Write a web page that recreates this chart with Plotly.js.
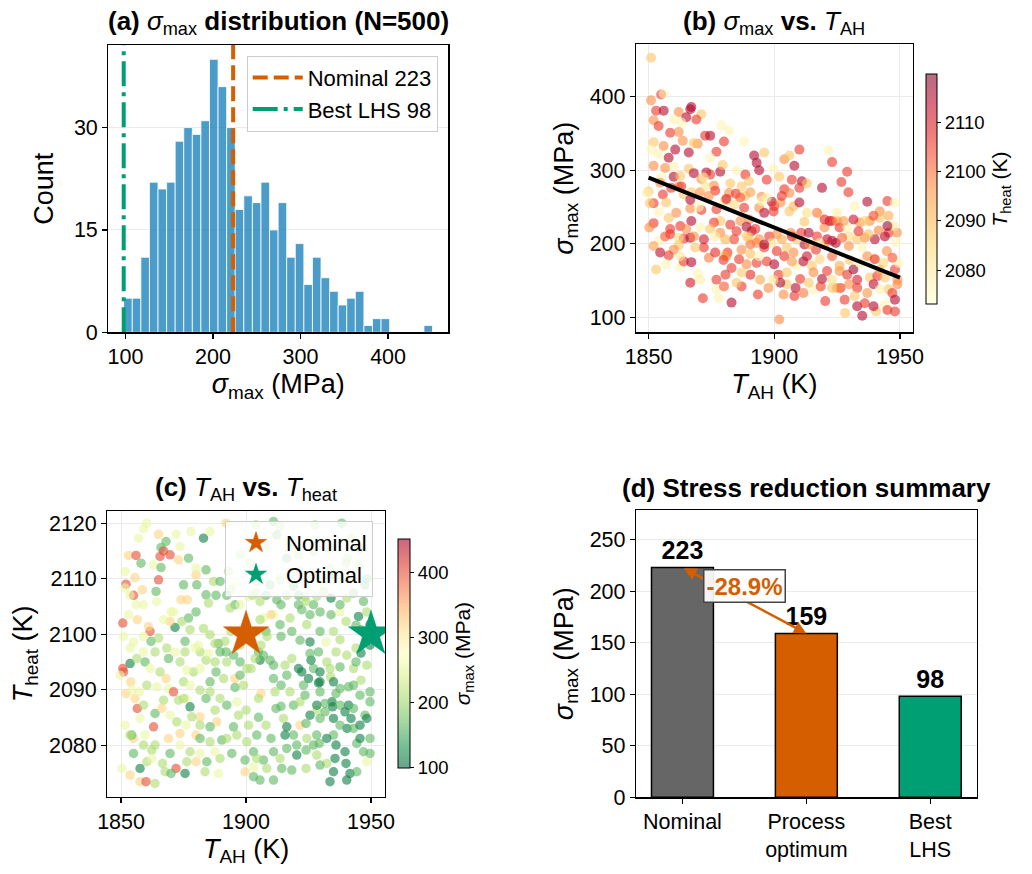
<!DOCTYPE html>
<html>
<head>
<meta charset="utf-8">
<script src="https://cdn.plot.ly/plotly-3.0.1.min.js"></script>
<style>html,body{margin:0;padding:0;background:#fff;}#chart{width:1032px;height:874px;}</style>
</head>
<body>
<div id="chart"></div>
<script>
// ---------------- DATA ----------------
// (a) histogram of sigma_max
const histStart = 98;      // MPa, left edge of first bin
const histBinWidth = 9.8;  // MPa
const histCounts = [5,5,11,22,21,22,28,30,29,31,40,36,30,18,20,19,22,15,19,11,13,7,11,8,6,4,5,6,1,2,2,0,0,0,0,1];
const nominalSigma = 223;
const bestLhsSigma = 98;

// (b) sigma_max vs T_AH, colour = T_heat
const bTah = [1851,1851,1855,1856,1853,1856,1862,1866.6,1867,1865,1871,1860,1852,1854,1863,1869,1879,1882,1858.6,1862,1872.5,1874.5,1863.6,1880,1888,1852,1856,1851,1860.6,1866,1877,1869.5,1868,1896,1892,1874.5,1858,1854,1910,1921.6,1923,1904,1906,1893,1908,1894,1899.7,1856.6,1852,1860,1866,1868,1873,1874.5,1878.5,1879.5,1860,1862.6,1871,1876,1882.5,1888.5,1887,1890,1897,1902,1907,1911,1910,1913,1929,1926.7,1919,1929.5,1932,1937,1945,1948,1850,1855.7,1862,1863,1867,1870.5,1876.5,1882,1884.7,1888.5,1895,1899,1900,1902.5,1904,1906,1906,1899.7,1852,1857,1861,1854,1866.6,1871,1877,1880.5,1888,1894,1896,1890,1886.5,1882.5,1878.5,1876,1870.6,1867,1862.6,1852,1850.3,1858.6,1858.6,1854,1865,1864,1866.6,1874.5,1878.5,1885,1889,1891,1892.5,1890,1894,1898,1901,1906.5,1910.7,1913.7,1917,1920,1922,1923,1925,1926,1929,1934,1938,1942,1942,1945.5,1948.8,1944,1940,1936,1933,1929.7,1923,1924.5,1920,1916.6,1912,1907.7,1905,1901,1896,1893,1887,1881.4,1880,1872,1868.5,1862,1860,1858,1853,1857,1862.6,1864,1867,1869.6,1877,1880.6,1881,1879.8,1883,1886,1889,1893,1897,1900,1901.7,1905,1909,1911.6,1915,1915.6,1919,1921,1926,1929,1926.4,1929.8,1933,1938,1941,1944,1948,1949,1945.5,1947,1948,1944,1945,1948,1940.5,1935,1933,1936,1928.2,1928,1925,1920.3,1915.6,1908.5,1908,1903.7,1902,1897.7,1893.5,1887,1885,1883,1878,1871.6,1877,1905,1910.3,1923,1932,1939.5,1948.5,1949.5,1944.8,1949,1872,1885,1895,1918,1935,1940,1912,1930,1855,1870,1858,1850.5,
1849.3,1854.6,1859,1864,1866.6,1872.5,1874,1881,1884,1886.5,1890.5,1897,1903,1907.7,1910,1913,1917,1920,1925,1927.6,1931.5,1936,1939.5,1945.5,1947.5,1945,1941.5,1937.5,1933.5,1929.6,1927,1921,1918,1914,1909,1907,1903,1899,1896,1890.5,1889,1884,1880.5,1876.5,1872,1868,1862,1856.6,1852,1854.6,1862.6,1874,1876.5,1890.5,1894,1904,1907,1913,1918,1923,1926,1931.5,1934,1937,1940,1943.5,1947,1942,1939.5,1942,1937,1933,1923,1918.5,1913.7,1911.6,1902.4,1899.7,1894.4,1890.5,1887,1880,1870.5,1866.6];
const bSigma = [453,395,403,404,381,381,379,383,386,372,376,369,368,360,365,369,361,354,351,352,347,347,340,339,339,338,333,328,328,324,325,336,337,324,320,317,317,322,328,327,311,315,320,310,306,300,302,303,306,305,302,296,297,294,298,307,291,292,288,279,282,294,278,285,287,291,287,285,276,282,298,284,276,270,251,257,258,256,271,267,278,278,270,270,272,269,268,265,264,257,251,256,274,269,244,244,255,256,242,243,248,246,247,259,249,249,242,233,231,226,231,229,222,231,224,228,222,220,213,204,220,207,208,220,215,217,223,217,220,208,206,210,213,215,215,215,210,222,231,231,231,222,222,229,231,244,235,215,215,210,206,208,206,197,204,201,199,192,199,188,195,190,195,201,192,188,183,195,195,198,192,184,165,172,168,176,175,160,151,158,183,178,167,179,172,174,176,172,158,161,170,176,170,161,152,163,163,158,140,145,140,154,156,154,165,145,138,133,124,117,110,108,108,102,115,119,106,124,140,122,138,140,129,131,97,140,131,142,147,120,126,126,138,145,152,140,129,115,202,174,190,151,290,300,258,240,195,180,230,178,290,250,235,255,
269,283,276,267,260,278,265,261,253,263,270,263,265,251,256,242,242,233,242,231,233,231,238,238,224,224,218,213,217,210,208,206,201,199,206,210,206,201,199,199,210,206,206,210,206,210,208,210,197,188,183,181,188,186,183,183,176,183,179,183,170,165,174,183,179,174,181,165,145,138,133,151,151,142,147,133,147,151,151,158,161,142,151,147];
const bTheat = [2088,2097,2106,2077,2106,2115,2097,2115,2115,2115,
2088,2077,2097,2106,2077,2106,2077,2077,2106,2097,
2106,2115,2097,2106,2077,2088,2097,2077,2115,2115,
2106,2097,2088,2088,2115,2077,2115,2077,2106,2077,
2106,2097,2088,2115,2115,2115,2077,2097,2097,2077,
2088,2115,2115,2106,2115,2088,2115,2088,2097,2097,
2088,2106,2088,2088,2106,2088,2106,2115,2106,2088,
2106,2106,2115,2106,2077,2115,2106,2077,2088,2106,
2097,2106,2088,2097,2106,2097,2106,2088,2097,2115,
2106,2097,2106,2097,2088,2106,2106,2088,2097,2077,
2097,2106,2106,2088,2106,2097,2115,2097,2097,2106,
2088,2106,2077,2115,2106,2106,2097,2106,2106,2077,
2097,2106,2115,2088,2097,2106,2115,2115,2106,2088,
2097,2106,2097,2097,2106,2115,2106,2097,2115,2106,
2097,2106,2077,2097,2097,2097,2088,2106,2097,2115,
2115,2097,2088,2097,2115,2115,2097,2106,2115,2097,
2088,2106,2106,2097,2097,2106,2088,2106,2088,2088,
2097,2106,2088,2077,2077,2106,2115,2077,2106,2106,
2097,2106,2106,2106,2097,2106,2106,2115,2106,2088,
2077,2115,2088,2097,2115,2106,2097,2106,2106,2097,
2106,2088,2106,2088,2106,2097,2088,2106,2115,2077,
2106,2106,2088,2115,2115,2106,2088,2106,2097,2106,
2077,2115,2106,2097,2097,2097,2106,2106,2088,2115,
2077,2106,2077,2088,2106,2088,2088,2115,2077,2077,
2097,2097,2077,2077,2077,2077,2077,2080,2088,2088,2077,2077,2088,2088,
2077,2097,2106,2088,2115,2081,2097,2110,2085,2102,
2094,2077,2106,2090,2115,2083,2099,2108,2079,2095,
2112,2086,2104,2092,2080,2117,2098,2089,2107,2084,
2101,2113,2078,2096,2088,2109,2093,2082,2116,2100,
2087,2105,2091,2079,2111,2097,2084,2103,2094,2114,
2081,2099,2108,2089,2076,2106,2095,2112,2086,2101,
2092,2118,2080,2097,2107,2085,2103,2090,2114,2078,
2096,2110,2083,2105,2088,2099,2116,2082,2093,2108,
2087,2102,2079,2111];
const fitTah = [1850, 1950];
const fitSigma = [290, 154];

// (c) T_heat vs T_AH, colour = sigma_max
const cTah = [1860.3,1859,1865,1857,1868,1866,1865.6,1867,1869.6,1853,
1856,1858,1863,1866,1873,1877,1873.6,1872,1878,1883,
1885.6,1892,1865,1852,1855.6,1855,1858.5,1864,1856,1851.6,
1850.7,1853,1856.5,1861.6,1861,1862,1871.6,1869.6,1871,1874,
1876.5,1877,1880,1880,1880.3,1875,1880,1884,1884,1885,
1888,1883,1881.6,1884,1879,1881.6,1885.6,1889,1889.6,1892,
1895,1894,1888,1895.6,1897.6,1895.6,1899,1905.6,1905,1909.6,
1907,1908,1908.4,1906,1903.6,1902,1911,1914,1911.6,1906,
1905,1900,1905,1908,1912,1914,1915,1916.3,1919,1915.6,
1910,1921.6,1924,1919,1921,1922.3,1925,1923,1927,1926,
1925.6,1929,1929.6,1934.4,1936,1934.6,1931.6,1928.4,1925.6,1929.6,
1937.6,1941,1942,1940.4,1943,1945.6,1947.6,1949.6,1949.6,1945.6,
1946,1943,1941,1937.6,1933.8,1937.6,1933.6,1929.6,1944,1946,
1944,1936,1932,1929,1925.6,1921.6,1918.3,1914,1914,1921,
1922.3,1927,1929.6,1934,1937.6,1934,1928.3,1924,1923.6,1943,
1947,1945,1944,1946,1940,1937.6,1921,1919,1908,1904,
1911,1907,1910,1901,1895.6,1893.6,1897.6,1905.6,1902.6,1921.6,
1924,1929.6,1935,1940.4,1947.6,1948.3,1933.6,1940,1945.3,1938.3,
1927.6,1911,1913.6,1904,1912.3,1918.3,1908.3,1921,1927,1933.6,
1940.6,1945.6,1942,1916.3,1901.6,1897.6,1893,1896,1887,1889.6,
1894,1892.3,1864.3,1870,1859.6,1853.6,1850.7,1851,1849.6,1853.9,
1852,1855.6,1856.5,1857.3,1863.6,1869,1867,1871,1873,1876,
1877.6,1881.6,1884,1887.6,1888.3,1868,1875,1865.6,1861.6,1869,
1873.6,1876.3,1863.6,1875.6,1851.6,1855,1854.3,1859.6,1863,1869,
1873.6,1876,1880,1881.6,1863.6,1859,1855,1862.3,1869.6,1876.3,
1880,1872,1867.6,1870,1875.6,1883.6,1889,1890.3,1894.3,1889.6,
1885.6,1899.6,1899.6,1903,1903,1905.6,1911,1914.3,1918.3,1907,
1911,1920.3,1924,1928.3,1933.6,1940.3,1941.6,1935.6,1940,1939.6,
1932.3,1949.6,1948.3,1944.3,1936,1929.3,1924,1857.6,1860,1863.6,
1850.3,1853.6,1857.6,1860.3,1853.6,1859,1855,1881,1885,
1851.6,1853.6,1859,1851,1859,1865,1867,1868.3,1871.6,1856.3,1854.3,1860.3,1864.3,1859,1866.3,1869.6,1872.3,1857.6,1853.6,1862.3,1866.6,1873.6,1877.6,1881.6,1884.3,1887.6,
1874.3,1877.6,1875.6,1879.6,1885.6,1887.6,1891.6,1897.6,1902.3,1892.3,1887.6,1897.6,1900.3,1891,1885.6,1881.6,1877.6,1875,1889.6,1892.3,1896.3,1897,1895,1901,1904.3,1900.3,1896.3,1892.3,1885.6,1881.6,1878.3,1903,1904.3,1908.3,1913.6,1916.3,1920.3,
1911,1915.6,1916.3,1918.3,1917.6,1921.6,1923.6,1928.3,1931.6,1935,1937.6,1935,1932.3,1928.3,1924.3,1927,1929.6,1935,1944.3,1947,1945.6,1949.6,1948.3,1943,1939.6,1943,1935,1929.6,1932.3,1940.3,1948.3,1949.6,1935,1929.6,1924.3,1917.6,1913.6,1925.6,1937.6,1940.3,1948.3,1949.6,1916.3,1912.3,1905.6,1904.3,1909.6,1913.6,1927,1931];
const cTheat = [2120,2119,2118,2117.3,2116.7,2115.6,2114,2115,2114.3,2114.2,
2114.2,2112.8,2112.5,2112,2113.4,2113.7,2115.8,2118,2118.5,2117.3,
2118.5,2120,2109.8,2109,2110.2,2107,2108,2107.7,2105.3,2108.3,
2102,2103.5,2102.6,2100.5,2101.4,2098.7,2101.2,2102.3,2104,2106.2,
2106.2,2102.9,2104,2110.7,2108.9,2108.9,2111.9,2111.6,2107.1,2105.6,
2107,2101,2096.8,2095.3,2093.2,2093.8,2091.4,2098.3,2096.8,2096.8,
2096.2,2100.5,2093.2,2092,2092.6,2090.4,2090.8,2095.3,2096.8,2095.3,
2096.2,2100.5,2099.6,2098,2095.6,2093.8,2092,2090.8,2089.6,2089.3,
2088.4,2086.3,2085,2083.6,2086.6,2087,2084.8,2083.3,2081.8,2081.8,
2081.2,2083.6,2083.9,2087.2,2093.8,2093.2,2092,2090.8,2093.8,2095.3,
2096.5,2091.2,2089.6,2087.8,2089.3,2086.9,2087.5,2086.3,2085.4,2084.8,
2087.2,2087.2,2084.8,2083,2083,2083.6,2085.4,2087.8,2089.6,2089,
2091.7,2093.8,2090.5,2090.2,2092.3,2094.1,2093.8,2093.2,2097.5,2096.6,
2095,2096.8,2098.6,2096.8,2098.6,2098.9,2100.5,2099.6,2105.3,2105.3,
2104.4,2105.3,2104,2103.5,2104,2106.5,2106.8,2105.9,2106.8,2107.4,
2105.9,2103.2,2101.6,2100.8,2102.3,2099,2107,2108.6,2107,2107.4,
2103.5,2102.9,2103.5,2106.8,2105.3,2104.7,2105.3,2102.6,2107,2111.3,
2108.9,2108.9,2110.7,2109.8,2108.9,2110,2111.9,2112.8,2112.5,2120,
2119.7,2120.3,2119.4,2119.7,2117.9,2116.4,2116.2,2114.3,2114.9,2115.5,
2113.7,2115.5,2117.3,2113.7,2112.8,2114.3,2111.3,2109.2,2109.5,2109.5,
2108,2107,2105.9,2104,2095,2094.7,2093.8,2093.2,2092.6,2091.4,
2089.3,2088.4,2086.6,2089.6,2085.7,2090.2,2088.1,2089.6,2088.1,2088.4,
2086.9,2085.1,2088.4,2086.3,2084.2,2092,2091.4,2093.2,2093.8,2095.6,
2095,2093.5,2096.8,2096.8,2083.6,2081.2,2081.8,2081.8,2083.3,2081.2,
2082.1,2083.6,2081.8,2081.2,2080,2080,2078.5,2079.1,2078.5,2077,
2077,2075.8,2075.2,2074.9,2074.9,2075.2,2074.9,2080.9,2078.5,2077.6,
2080.6,2075.2,2077.3,2076,2074.3,2073.7,2073.7,2075.8,2075.5,2077.3,
2078.8,2078.2,2079.1,2078.2,2073.4,2073.7,2074.9,2077.6,2076.7,2078.8,
2076.7,2078.5,2077,2080.3,2080,2080.3,2075.8,2073.4,2073.4,2073.1,
2075.8,2074.6,2075.8,2077,2097.5,2096.8,2098.6,2098,2096.5,
2111.3,2107,2105.3,2099.6,2099.6,2099.3,2102.6,2097.5,2096.8,2095.6,2089.9,2090.8,2090.5,2087.2,2086.6,2085.4,2084.2,2084.8,2081.8,2077.6,2076.7,2080,2078.8,2078.5,2077,2078.8,
2102.3,2100.8,2098.7,2097.5,2099.9,2098.3,2098.7,2098,2098.7,2095,2095,2095,2093.8,2092,2089.6,2089.9,2090.8,2088.4,2088.4,2087.2,2087.8,2085.4,2083.3,2083.6,2081.8,2080.6,2081.8,2081.2,2083.3,2083.6,2085.1,2078.8,2077.6,2075.8,2077.6,2079.4,2080,
2094.4,2094.4,2092.6,2095.6,2089.6,2087.8,2089,2087.2,2086,2084.8,2083.6,2081.8,2081.2,2081.8,2081.2,2080,2076.4,2075.2,2075.2,2078.8,2081.2,2081.2,2084.8,2086.6,2086,2090.8,2091.4,2091.4,2095,2096.2,2094.4,2098,2100.5,2100.5,2101.7,2102.9,2101.7,2103.5,2105.3,2106.5,2104,2101.7,2107,2106.2,2105.9,2109.5,2108.9,2109.8,2110.7,2107.7];
const cSigma = [255,255,320,255,165,165,400,400,400,320,
400,165,255,165,320,165,255,255,255,115,
255,320,400,400,320,400,320,165,255,255,
400,255,320,400,320,165,115,320,255,320,
320,165,165,320,165,165,255,165,165,210,
165,210,210,210,210,255,165,165,165,165,
165,210,165,320,165,165,210,115,165,165,
165,165,210,210,210,210,165,165,210,320,
210,210,165,210,165,165,210,115,165,115,
165,320,165,165,115,115,115,165,165,115,
165,115,165,115,165,115,165,210,115,165,
165,115,115,115,165,115,165,165,165,165,
210,210,165,165,210,165,210,115,210,115,
165,210,255,165,115,165,165,165,165,165,
165,165,165,165,255,115,210,210,210,165,
165,115,165,165,210,210,165,165,165,210,
255,255,320,255,165,210,255,210,210,210,
210,255,165,210,165,165,210,210,210,165,
210,165,210,210,165,210,210,210,210,210,
210,165,210,165,210,210,210,255,210,165,
210,165,255,255,165,115,400,400,255,320,
320,320,400,255,165,255,210,400,210,255,
115,320,165,210,320,320,210,210,255,165,
210,255,210,210,255,320,165,255,400,320,
320,255,320,165,210,210,165,210,165,210,
320,400,210,165,115,210,255,165,165,210,
210,320,165,255,165,165,165,165,165,165,
165,115,165,210,115,115,115,115,115,115,
210,165,255,165,115,165,210,320,400,210,
255,320,115,210,255,255,255,255,255,
255,255,255,255,255,210,255,210,255,210,255,210,255,210,320,255,210,255,210,255,210,255,210,255,165,255,
210,210,165,255,210,210,210,210,255,210,210,165,210,210,210,210,255,210,210,165,255,210,165,210,165,210,210,210,165,210,210,165,210,210,210,165,165,
165,210,165,210,210,210,165,115,165,115,165,165,115,165,210,165,165,115,165,165,115,165,115,165,115,165,115,115,210,210,210,115,210,165,210,210,165,165,165,210,210,115,210,165,210,210,165,210,210,210];
const markNames = ['Nominal', 'Optimal'];
const markTah = [1900, 1950];
const markTheat = [2100, 2100];

// (d) summary bars
const summaryCats = ['Nominal', 'Process<br>optimum', 'Best<br>LHS'];
const summaryVals = [223, 159, 98];
const reductionLabel = '-28.9%';

// ---------------- STYLE ----------------
const FONT = 'Liberation Sans, Arial, Helvetica, sans-serif';
const C_ORANGE = '#D55E00', C_GREEN = '#009E73', C_GRAY = '#666666';
const ylorrd = [[0,'rgba(255,255,204,0.58)'],[0.125,'rgba(255,237,160,0.58)'],[0.25,'rgba(254,217,118,0.58)'],[0.375,'rgba(254,178,76,0.58)'],[0.5,'rgba(253,141,60,0.58)'],[0.625,'rgba(252,78,42,0.58)'],[0.75,'rgba(227,26,28,0.58)'],[0.875,'rgba(189,0,38,0.58)'],[1,'rgba(128,0,38,0.58)']];
const rdylgnR = [[0,'rgba(0,104,55,0.6)'],[0.1,'rgba(26,152,80,0.6)'],[0.2,'rgba(102,189,99,0.6)'],[0.3,'rgba(166,217,106,0.6)'],[0.4,'rgba(217,239,139,0.6)'],[0.5,'rgba(255,255,191,0.6)'],[0.6,'rgba(254,224,139,0.6)'],[0.7,'rgba(253,174,97,0.6)'],[0.8,'rgba(244,109,67,0.6)'],[0.9,'rgba(215,48,39,0.6)'],[1,'rgba(165,0,38,0.6)']];

const W = 1032, H = 874;
const dx = (a, b) => [a / W, b / W];
const dy = (top, bottom) => [1 - bottom / H, 1 - top / H];

const histCenters = histCounts.map((_, i) => histStart + histBinWidth * (i + 0.5));
const sumX = summaryCats.map((_, i) => i);

const traces = [
  // (a)
  {type:'bar', x:histCenters, y:histCounts, width:histBinWidth, xaxis:'x', yaxis:'y',
   marker:{color:'rgba(0,114,178,0.7)', line:{color:'#ffffff', width:0.8}}, showlegend:false},
  {type:'scatter', mode:'lines', x:[nominalSigma, nominalSigma], y:[0, 42.1], xaxis:'x', yaxis:'y',
   line:{color:C_ORANGE, width:4, dash:'15px,6px'}, name:'Nominal ' + nominalSigma, legend:'legend'},
  {type:'scatter', mode:'lines', x:[bestLhsSigma, bestLhsSigma], y:[0, 42.1], xaxis:'x', yaxis:'y',
   line:{color:C_GREEN, width:4, dash:'25px,6px,4px,6px'}, name:'Best LHS ' + bestLhsSigma, legend:'legend'},
  // (b)
  {type:'scatter', mode:'markers', x:bTah, y:bSigma, xaxis:'x2', yaxis:'y2', showlegend:false,
   marker:{size:10, color:bTheat, colorscale:ylorrd, cmin:2073.1, cmax:2119.8, line:{width:0},
     colorbar:{x:925.7/W, xanchor:'left', y:1-189/H, yanchor:'middle', len:230/H, lenmode:'fraction',
       thickness:11, thicknessmode:'pixels', outlinewidth:1, outlinecolor:'#000', xpad:0, ypad:0,
       tickvals:[2080,2090,2100,2110], ticks:'outside', ticklen:4, tickwidth:1, tickcolor:'#000',
       tickfont:{family:FONT, size:18.5, color:'#000'},
       title:{text:'<i>T</i><sub>heat</sub> (K)', side:'right', font:{family:FONT, size:21, color:'#000'}}}}},
  {type:'scatter', mode:'lines', x:fitTah, y:fitSigma, xaxis:'x2', yaxis:'y2', showlegend:false,
   line:{color:'#000', width:4}},
  // (c)
  {type:'scatter', mode:'markers', x:cTah, y:cTheat, xaxis:'x3', yaxis:'y3', showlegend:false,
   marker:{size:9.5, color:cSigma, colorscale:rdylgnR, cmin:99, cmax:452, line:{width:0},
     colorbar:{x:397.7/W, xanchor:'left', y:1-653.6/H, yanchor:'middle', len:229.3/H, lenmode:'fraction',
       thickness:12, thicknessmode:'pixels', outlinewidth:1, outlinecolor:'#000', xpad:0, ypad:0,
       tickvals:[100,200,300,400], ticks:'outside', ticklen:4, tickwidth:1, tickcolor:'#000',
       tickfont:{family:FONT, size:18.5, color:'#000'},
       title:{text:'<i>σ</i><sub>max</sub> (MPa)', side:'right', font:{family:FONT, size:21, color:'#000'}}}}},
  {type:'scatter', mode:'markers', x:[markTah[0]], y:[markTheat[0]], xaxis:'x3', yaxis:'y3', name:markNames[0], legend:'legend2',
   marker:{symbol:'star', size:34, color:C_ORANGE, line:{width:0.5, color:C_ORANGE}}},
  {type:'scatter', mode:'markers', x:[markTah[1]], y:[markTheat[1]], xaxis:'x3', yaxis:'y3', name:markNames[1], legend:'legend2',
   marker:{symbol:'star', size:34, color:C_GREEN, line:{width:0.5, color:C_GREEN}}},
  // (d)
  {type:'bar', x:sumX, y:summaryVals, width:0.5, xaxis:'x4', yaxis:'y4', showlegend:false,
   marker:{color:[C_GRAY, C_ORANGE, C_GREEN], line:{color:'#000', width:1.5}},
   text:summaryVals.map(v => '<b>' + v + '</b>'), textposition:'outside', cliponaxis:false,
   textfont:{family:FONT, size:25, color:'#000'}, constraintext:'none'}
];

const axisCommon = {
  showline:true, linecolor:'#000', linewidth:1.2, mirror:true,
  ticks:'outside', ticklen:5, tickwidth:1.2, tickcolor:'#000',
  tickfont:{family:FONT, size:21.5, color:'#000'},
  gridcolor:'#ebebeb', gridwidth:1, zeroline:false, fixedrange:true
};
const tFont = {family:FONT, size:27, color:'#000'};
function ax(o){ return Object.assign({}, axisCommon, o); }

const layout = {
  width:W, height:H, margin:{l:0, r:0, t:0, b:0},
  paper_bgcolor:'#fff', plot_bgcolor:'#fff',
  font:{family:FONT, color:'#000'},
  xaxis: ax({domain:dx(108.3,448.3), anchor:'y', range:[80.4,468.8], tickvals:[100,200,300,400], showgrid:false,
    title:{text:'<i>σ</i><sub>max</sub> (MPa)', font:tFont, standoff:4}}),
  yaxis: ax({domain:dy(45,332.3), anchor:'x', range:[0,42.1], tickvals:[0,15,30], showgrid:true,
    title:{text:'Count', font:tFont, standoff:12}}),
  xaxis2: ax({domain:dx(636,912.5), anchor:'y2', range:[1845,1955], tickvals:[1850,1900,1950], showgrid:true,
    title:{text:'<i>T</i><sub>AH</sub> (K)', font:tFont, standoff:4}}),
  yaxis2: ax({domain:dy(44.3,332.3), anchor:'x2', range:[79.6,471.2], tickvals:[100,200,300,400], showgrid:true,
    title:{text:'<i>σ</i><sub>max</sub> (MPa)', font:tFont, standoff:8}}),
  xaxis3: ax({domain:dx(107.3,385), anchor:'y3', range:[1844.5,1955.6], tickvals:[1850,1900,1950], showgrid:true,
    title:{text:'<i>T</i><sub>AH</sub> (K)', font:tFont, standoff:4}}),
  yaxis3: ax({domain:dy(511,796.7), anchor:'x3', range:[2070.7,2122.2], tickvals:[2080,2090,2100,2110,2120], showgrid:true,
    title:{text:'<i>T</i><sub>heat</sub> (K)', font:tFont, standoff:8}}),
  xaxis4: ax({domain:dx(636,976.7), anchor:'y4', range:[-0.375,2.375], tickvals:sumX, ticktext:summaryCats, showgrid:false}),
  yaxis4: ax({domain:dy(510,797.3), anchor:'x4', range:[0,278.75], tickvals:[0,50,100,150,200,250], showgrid:true,
    title:{text:'<i>σ</i><sub>max</sub> (MPa)', font:tFont, standoff:8}}),
  legend:{x:437.7/W, xanchor:'right', y:1-55.7/H, yanchor:'top', bgcolor:'rgba(255,255,255,0.8)',
    bordercolor:'#cccccc', borderwidth:1, font:{family:FONT, size:22, color:'#000'}, tracegroupgap:0, itemwidth:50},
  legend2:{x:373/W, xanchor:'right', y:1-521/H, yanchor:'top', bgcolor:'rgba(255,255,255,0.8)',
    bordercolor:'#cccccc', borderwidth:1, font:{family:FONT, size:22, color:'#000'}, itemsizing:'trace', itemwidth:50},
  bargap:0,
  annotations:[
    {xref:'paper', yref:'paper', x:278/W, y:1-22/H, xanchor:'center', yanchor:'middle', showarrow:false,
     text:'<b>(a) </b><i>σ</i><sub>max</sub><b> distribution (N=500)</b>', font:{family:FONT, size:26, color:'#000'}},
    {xref:'paper', yref:'paper', x:774/W, y:1-22/H, xanchor:'center', yanchor:'middle', showarrow:false,
     text:'<b>(b) </b><i>σ</i><sub>max</sub><b> vs. </b><i>T</i><sub>AH</sub>', font:{family:FONT, size:26, color:'#000'}},
    {xref:'paper', yref:'paper', x:246/W, y:1-488/H, xanchor:'center', yanchor:'middle', showarrow:false,
     text:'<b>(c) </b><i>T</i><sub>AH</sub><b> vs. </b><i>T</i><sub>heat</sub>', font:{family:FONT, size:26, color:'#000'}},
    {xref:'paper', yref:'paper', x:806/W, y:1-488/H, xanchor:'center', yanchor:'middle', showarrow:false,
     text:'<b>(d) Stress reduction summary</b>', font:{family:FONT, size:26, color:'#000'}},
    {xref:'x4', yref:'y4', x:sumX[1], y:summaryVals[1], axref:'x4', ayref:'y4', ax:sumX[0], ay:summaryVals[0],
     text:'', showarrow:true, arrowhead:2, startarrowhead:2, arrowside:'end+start', arrowsize:1, arrowwidth:2.5,
     arrowcolor:C_ORANGE, standoff:0, startstandoff:0},
    {xref:'x4', yref:'y4', x:0.5, y:205, showarrow:false, text:'<b>' + reductionLabel + '</b>',
     font:{family:FONT, size:24, color:C_ORANGE}, bgcolor:'rgba(255,255,255,0.92)', bordercolor:'#444', borderwidth:1.5, borderpad:2}
  ]
};

Plotly.newPlot('chart', traces, layout, {displayModeBar:false, staticPlot:true});
</script>
</body>
</html>
